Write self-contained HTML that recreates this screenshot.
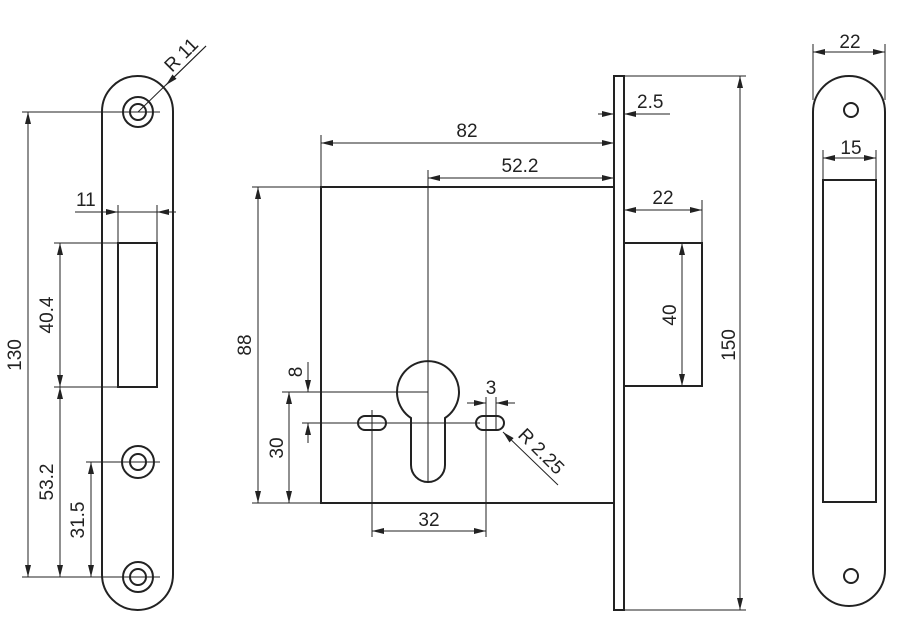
<!DOCTYPE html>
<html><head><meta charset="utf-8"><style>
html,body{margin:0;padding:0;background:#fff}
svg{display:block}
text{font-family:"Liberation Sans",sans-serif;font-size:19px;fill:#222}
.o{fill:none;stroke:#222;stroke-width:2}
.d{fill:none;stroke:#222;stroke-width:1}
</style></head><body>
<svg width="900" height="618" viewBox="0 0 900 618" xmlns="http://www.w3.org/2000/svg">
<defs>
<marker id="a" viewBox="0 0 12 6" refX="12" refY="3" markerWidth="12" markerHeight="6" markerUnits="userSpaceOnUse" orient="auto-start-reverse"><path d="M0,0 L12,3 L0,6 Z" fill="#222"/></marker>
</defs>

<!-- LEFT PLATE -->
<rect class="o" x="102" y="76" width="71" height="534" rx="35.5"/>
<circle class="o" cx="138" cy="112" r="15" stroke-width="1.6"/><circle class="o" cx="138" cy="112" r="8" stroke-width="1.6"/>
<circle class="o" cx="138" cy="462" r="16" stroke-width="1.6"/><circle class="o" cx="138" cy="462" r="8" stroke-width="1.6"/>
<circle class="o" cx="138" cy="577" r="15" stroke-width="1.6"/><circle class="o" cx="138" cy="577" r="8" stroke-width="1.6"/>
<rect class="o" x="118" y="243" width="39" height="144"/>
<line class="d" x1="22" y1="112" x2="160" y2="112"/>
<line class="d" x1="22" y1="577" x2="160" y2="577"/>
<line class="d" x1="28" y1="112" x2="28" y2="577" marker-start="url(#a)" marker-end="url(#a)"/>
<text transform="translate(21,355) rotate(-90)" text-anchor="middle">130</text>
<line class="d" x1="54" y1="243" x2="118" y2="243"/>
<line class="d" x1="54" y1="387" x2="118" y2="387"/>
<line class="d" x1="60" y1="243" x2="60" y2="387" marker-start="url(#a)" marker-end="url(#a)"/>
<text transform="translate(53,315) rotate(-90)" text-anchor="middle">40.4</text>
<line class="d" x1="60" y1="387" x2="60" y2="577" marker-start="url(#a)" marker-end="url(#a)"/>
<text transform="translate(53,482) rotate(-90)" text-anchor="middle">53.2</text>
<line class="d" x1="86" y1="462" x2="160" y2="462"/>
<line class="d" x1="91" y1="462" x2="91" y2="577" marker-start="url(#a)" marker-end="url(#a)"/>
<text transform="translate(84,520) rotate(-90)" text-anchor="middle">31.5</text>
<line class="d" x1="118" y1="205" x2="118" y2="243"/>
<line class="d" x1="157" y1="205" x2="157" y2="243"/>
<line class="d" x1="75" y1="212" x2="118" y2="212" marker-end="url(#a)"/>
<line class="d" x1="118" y1="212" x2="157" y2="212"/>
<line class="d" x1="176" y1="212" x2="157" y2="212" marker-end="url(#a)"/>
<text x="76" y="206">11</text>
<line class="d" x1="206" y1="46" x2="138" y2="112"/>
<line class="d" x1="206" y1="46" x2="166" y2="85" marker-end="url(#a)"/>
<text transform="translate(172,73) rotate(-45)">R 11</text>

<!-- MAIN BODY -->
<rect class="o" x="321" y="187" width="293" height="316"/>
<rect class="o" x="614" y="76" width="10" height="534"/>
<rect class="o" x="624" y="243" width="78" height="143"/>
<path class="o" d="M411,418 L411,465 A17,17 0 0 0 445,465 L445,418 A31,31 0 1 0 411,418 Z"/>
<rect class="o" x="358" y="416" width="28" height="14" rx="7"/>
<rect class="o" x="476" y="416" width="28" height="14" rx="7"/>
<line class="d" x1="428" y1="170" x2="428" y2="483"/>
<line class="d" x1="321" y1="135" x2="321" y2="187"/>
<line class="d" x1="321" y1="143" x2="614" y2="143" marker-start="url(#a)" marker-end="url(#a)"/>
<text x="467" y="137" text-anchor="middle">82</text>
<line class="d" x1="428" y1="178" x2="614" y2="178" marker-start="url(#a)" marker-end="url(#a)"/>
<text x="520" y="172" text-anchor="middle">52.2</text>
<line class="d" x1="252" y1="187" x2="321" y2="187"/>
<line class="d" x1="252" y1="503" x2="321" y2="503"/>
<line class="d" x1="258" y1="187" x2="258" y2="503" marker-start="url(#a)" marker-end="url(#a)"/>
<text transform="translate(251,345) rotate(-90)" text-anchor="middle">88</text>
<line class="d" x1="282" y1="392" x2="428" y2="392"/>
<line class="d" x1="289" y1="392" x2="289" y2="503" marker-start="url(#a)" marker-end="url(#a)"/>
<text transform="translate(283,448) rotate(-90)" text-anchor="middle">30</text>
<line class="d" x1="302" y1="423" x2="480" y2="423"/>
<line class="d" x1="308" y1="362" x2="308" y2="392" marker-end="url(#a)"/>
<line class="d" x1="308" y1="443" x2="308" y2="423" marker-end="url(#a)"/>
<text transform="translate(302,372) rotate(-90)" text-anchor="middle">8</text>
<line class="d" x1="372" y1="410" x2="372" y2="537"/>
<line class="d" x1="486" y1="397" x2="486" y2="537"/>
<line class="d" x1="372" y1="531" x2="486" y2="531" marker-start="url(#a)" marker-end="url(#a)"/>
<text x="429" y="526" text-anchor="middle">32</text>
<line class="d" x1="496" y1="397" x2="496" y2="430"/>
<line class="d" x1="467" y1="403" x2="486" y2="403" marker-end="url(#a)"/>
<line class="d" x1="515" y1="403" x2="496" y2="403" marker-end="url(#a)"/>
<text x="491" y="394" text-anchor="middle">3</text>
<line class="d" x1="558" y1="485" x2="503" y2="432" marker-end="url(#a)"/>
<text transform="translate(517,436) rotate(45)">R 2.25</text>
<line class="d" x1="598" y1="114" x2="614" y2="114" marker-end="url(#a)"/>
<line class="d" x1="670" y1="114" x2="624" y2="114" marker-end="url(#a)"/>
<text x="637" y="108">2.5</text>
<line class="d" x1="702" y1="200" x2="702" y2="243"/>
<line class="d" x1="624" y1="210" x2="702" y2="210" marker-start="url(#a)" marker-end="url(#a)"/>
<text x="663" y="204" text-anchor="middle">22</text>
<line class="d" x1="682" y1="243" x2="682" y2="386" marker-start="url(#a)" marker-end="url(#a)"/>
<text transform="translate(676,315) rotate(-90)" text-anchor="middle">40</text>
<line class="d" x1="624" y1="76" x2="746" y2="76"/>
<line class="d" x1="624" y1="610" x2="746" y2="610"/>
<line class="d" x1="740" y1="76" x2="740" y2="610" marker-start="url(#a)" marker-end="url(#a)"/>
<text transform="translate(735,345) rotate(-90)" text-anchor="middle">150</text>

<!-- RIGHT PLATE -->
<rect class="o" x="813" y="76" width="72" height="530" rx="36"/>
<circle class="o" cx="851" cy="110" r="7" stroke-width="1.6"/>
<circle class="o" cx="851" cy="576" r="7" stroke-width="1.6"/>
<rect class="o" x="823" y="180" width="53" height="322"/>
<line class="d" x1="813" y1="44" x2="813" y2="100"/>
<line class="d" x1="885" y1="44" x2="885" y2="100"/>
<line class="d" x1="813" y1="52" x2="885" y2="52" marker-start="url(#a)" marker-end="url(#a)"/>
<text x="850" y="48" text-anchor="middle">22</text>
<line class="d" x1="823" y1="150" x2="823" y2="180"/>
<line class="d" x1="876" y1="150" x2="876" y2="180"/>
<line class="d" x1="823" y1="158" x2="876" y2="158" marker-start="url(#a)" marker-end="url(#a)"/>
<text x="851" y="154" text-anchor="middle">15</text>
</svg>
</body></html>
